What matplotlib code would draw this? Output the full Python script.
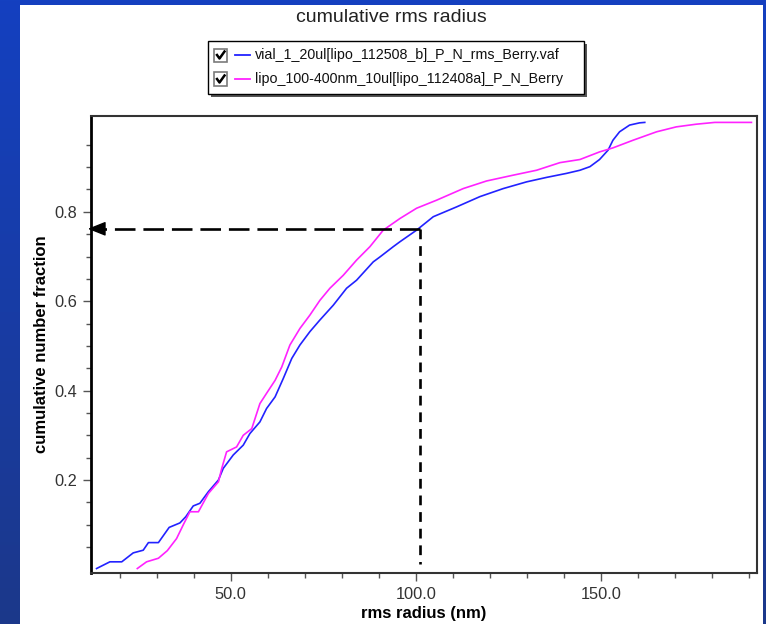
import numpy as np
import matplotlib.pyplot as plt
from matplotlib.patches import Rectangle
from matplotlib.lines import Line2D

plt.rcParams['font.family'] = ['Liberation Sans', 'DejaVu Sans']

# values
vial_x = [13.8, 17.4, 20.6, 23.7, 26.4, 27.8, 30.5, 33.4, 36.3, 37.9,
          39.9, 41.7, 44.0, 46.7, 48.0, 50.7, 53.4, 55.2, 57.9, 59.7,
          62.0, 64.2, 66.5, 68.7, 71.4, 74.1, 77.7, 81.3, 84.0, 88.5,
          90.3, 93.9, 95.7, 100.2, 104.7, 111.0, 117.3, 123.6, 129.9, 135.3,
          140.7, 144.3, 147.0, 149.6, 151.9, 153.2, 155.0, 157.7, 160.4, 161.8]
vial_y = [0.002, 0.017, 0.017, 0.037, 0.043, 0.060, 0.060, 0.094, 0.104, 0.118,
          0.142, 0.148, 0.174, 0.200, 0.226, 0.256, 0.278, 0.304, 0.330, 0.360,
          0.386, 0.427, 0.472, 0.502, 0.532, 0.558, 0.591, 0.629, 0.647, 0.688,
          0.699, 0.722, 0.733, 0.759, 0.789, 0.811, 0.834, 0.852, 0.867, 0.877,
          0.886, 0.893, 0.901, 0.917, 0.938, 0.960, 0.979, 0.994, 0.999, 1.000]

lipo_x = [24.8, 27.3, 30.5, 32.9, 35.4, 37.4, 39.0, 41.3, 44.0, 46.7,
          47.6, 48.9, 51.6, 53.4, 55.7, 57.9, 59.7, 62.0, 63.8, 66.0,
          68.7, 71.4, 74.1, 76.8, 80.4, 84.0, 87.6, 91.2, 95.7, 100.2,
          105.6, 112.8, 119.1, 126.3, 132.6, 138.9, 144.3, 149.6, 153.2, 158.6,
          165.0, 170.3, 175.7, 180.7, 190.6]
lipo_y = [0.002, 0.017, 0.025, 0.042, 0.069, 0.103, 0.129, 0.129, 0.170, 0.196,
          0.226, 0.263, 0.274, 0.300, 0.315, 0.371, 0.394, 0.423, 0.453, 0.502,
          0.539, 0.569, 0.602, 0.629, 0.658, 0.692, 0.722, 0.759, 0.785, 0.808,
          0.826, 0.852, 0.869, 0.882, 0.893, 0.910, 0.917, 0.934, 0.943, 0.960,
          0.979, 0.990, 0.996, 1.000, 1.000]

labels = ['vial_1_20ul[lipo_112508_b]_P_N_rms_Berry.vaf',
          'lipo_100-400nm_10ul[lipo_112408a]_P_N_Berry']
colors = ['#2222ff', '#ff22ff']

marker_x = 101.1   # rms radius at the marked point
marker_y = 0.762   # cumulative fraction at the marked point

W, H = 766, 624
fig = plt.figure(figsize=(W / 100, H / 100), dpi=100)

def fx(px):
    return px / W

def fy(py):
    return 1 - py / H

# blue gradient background
bg = fig.add_axes([0, 0, 1, 1], zorder=-10)
grad = np.linspace(0, 1, 256)[:, None, None]
top = np.array([20, 64, 192]) / 255
bot = np.array([28, 56, 138]) / 255
bg.imshow(top + (bot - top) * grad, aspect='auto', extent=[0, 1, 0, 1])
bg.axis('off')

# white panel
fig.patches.append(Rectangle((fx(20), 0), fx(763) - fx(20), fy(5),
                             transform=fig.transFigure, facecolor='white',
                             edgecolor='none', zorder=-5))

fig.text(fx(391), fy(18), 'cumulative rms radius', ha='center', va='center',
         fontsize=14, color='#222222')

# legend box with checkboxes
lx0, lx1, ly0, ly1 = 207.6, 583.8, 41, 94.3
fig.patches.append(Rectangle((fx(lx0 + 3), fy(ly1 + 3)), fx(lx1 - lx0), fy(ly0) - fy(ly1),
                             transform=fig.transFigure, facecolor='#555555',
                             edgecolor='none', zorder=1))
fig.patches.append(Rectangle((fx(lx0), fy(ly1)), fx(lx1 - lx0), fy(ly0) - fy(ly1),
                             transform=fig.transFigure, facecolor='white',
                             edgecolor='black', lw=1.0, zorder=2))
for i, (lab, col) in enumerate(zip(labels, colors)):
    yc = 55 + 24 * i
    fig.patches.append(Rectangle((fx(214), fy(yc + 6.5)), fx(13), fy(yc - 6.5) - fy(yc + 6.5),
                                 transform=fig.transFigure, facecolor='white',
                                 edgecolor='#7a7a7a', lw=1.2, zorder=3))
    fig.add_artist(Line2D([fx(217), fx(219.5), fx(224.5)],
                          [fy(yc), fy(yc + 3.5), fy(yc - 3.5)],
                          transform=fig.transFigure, color='black', lw=1.8, zorder=4))
    fig.add_artist(Line2D([fx(234.5), fx(250)], [fy(yc), fy(yc)],
                          transform=fig.transFigure, color=col, lw=1.3, zorder=4))
    fig.text(fx(255), fy(yc), lab, ha='left', va='center', fontsize=10.3,
             color='#111111', zorder=4)

ax = fig.add_axes([fx(91), fy(573), fx(757 - 91), fy(115.7) - fy(573)])
ax.plot(vial_x, vial_y, color=colors[0], lw=1.2)
ax.plot(lipo_x, lipo_y, color=colors[1], lw=1.2)

ax.set_xlim(12.3, 192.1)
ax.set_ylim(-0.008, 1.015)

ax.set_xticks([50, 100, 150])
ax.set_xticklabels(['50.0', '100.0', '150.0'])
ax.set_xticks(np.arange(20, 191, 10), minor=True)
ax.set_yticks([0.2, 0.4, 0.6, 0.8])
ax.set_yticklabels(['0.2', '0.4', '0.6', '0.8'])
ax.set_yticks(np.arange(0.05, 0.96, 0.05), minor=True)
ax.tick_params(which='major', length=6, width=1, color='#555555',
               labelsize=11.8, labelcolor='#333333', pad=4)
ax.tick_params(which='minor', length=3.5, width=1, color='#555555')

for side in ['top', 'right', 'bottom']:
    ax.spines[side].set_color('#333333')
    ax.spines[side].set_linewidth(1.5)
ax.spines['left'].set_color('black')
ax.spines['left'].set_linewidth(2)

ax.set_xlabel('rms radius (nm)', fontsize=12, fontweight='bold', labelpad=3)
ax.set_ylabel('cumulative number fraction', fontsize=12, fontweight='bold', labelpad=4)

# marker lines
x_lo = ax.get_xlim()[0]
ax.plot([marker_x, x_lo + 1.0], [marker_y, marker_y], color='black', lw=1.9,
        linestyle=(0, (7.8, 3.0)), clip_on=False)
ax.plot([marker_x, marker_x], [marker_y, 0.012], color='black', lw=1.9,
        linestyle=(0, (3.7, 2.6)))
ax.annotate('', xy=(x_lo - 1.6, marker_y), xytext=(x_lo + 2.5, marker_y),
            arrowprops=dict(arrowstyle='-|>,head_length=0.55,head_width=0.22',
                            color='black', lw=1.0, mutation_scale=20),
            annotation_clip=False)

fig.savefig('out.png', dpi=100)
